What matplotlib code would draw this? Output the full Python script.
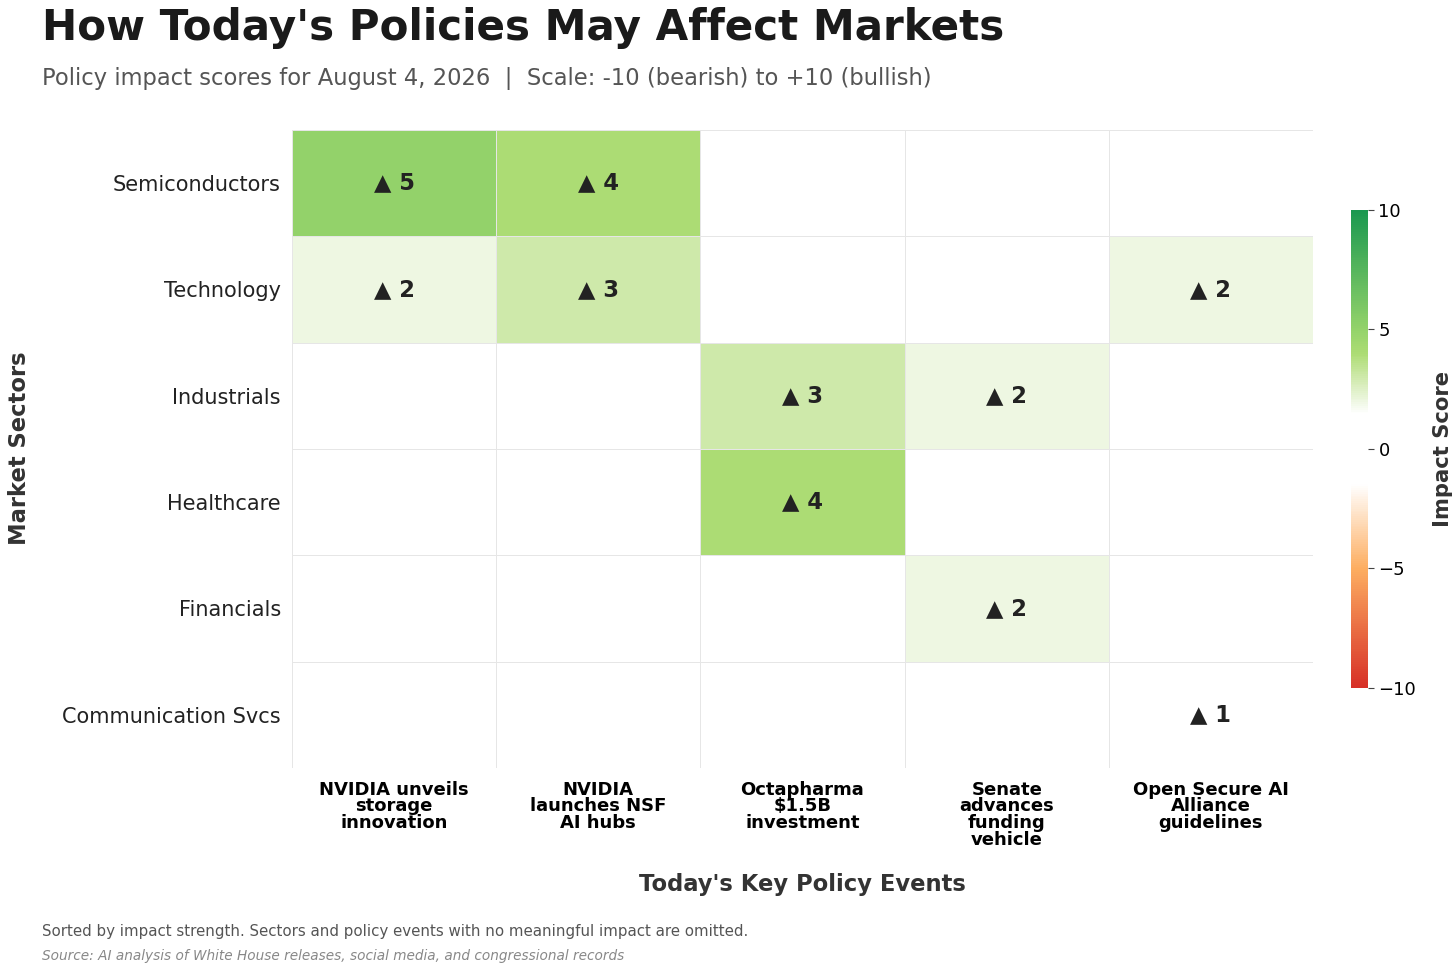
import numpy as np
import matplotlib
matplotlib.use("Agg")
import matplotlib.pyplot as plt
from matplotlib.colors import LinearSegmentedColormap, Normalize

plt.rcParams["font.family"] = ["DejaVu Sans"]

# data
sectors = ["Semiconductors", "Technology", "Industrials", "Healthcare",
           "Financials", "Communication Svcs"]
events = ["NVIDIA unveils\nstorage\ninnovation",
          "NVIDIA\nlaunches NSF\nAI hubs",
          "Octapharma\n$1.5B\ninvestment",
          "Senate\nadvances\nfunding\nvehicle",
          "Open Secure AI\nAlliance\nguidelines"]
semis = [5, 4, 0, 0, 0]
tech = [2, 3, 0, 0, 2]
industrials = [0, 0, 3, 2, 0]
healthcare = [0, 0, 4, 0, 0]
financials = [0, 0, 0, 2, 0]
comms = [0, 0, 0, 0, 1]
scores = np.array([semis, tech, industrials, healthcare, financials, comms], dtype=float)

# diverging map, white band around zero
nodes = [(-10, "#d73027"), (-5, "#fdae61"), (-1.5, "#ffffff"), (1.5, "#ffffff"),
         (2, "#eef7e2"), (3, "#cfe9ab"), (4, "#addc74"), (5, "#94d36a"), (10, "#1a9850")]
cmap = LinearSegmentedColormap.from_list(
    "impact", [((v + 10) / 20, c) for v, c in nodes])
norm = Normalize(vmin=-10, vmax=10)

fig = plt.figure(figsize=(14.56, 9.75), dpi=100)
ax = fig.add_axes([0.2005, 0.2123, 0.7013, 0.6544])
cax = fig.add_axes([0.9279, 0.2944, 0.0117, 0.4903])

mesh = ax.pcolormesh(scores, cmap=cmap, norm=norm, edgecolors="#e6e6e6", linewidth=0.7)
ax.set_xlim(0, len(events))
ax.set_ylim(len(sectors), 0)

for i in range(len(sectors)):
    for j in range(len(events)):
        v = scores[i, j]
        if v == 0:
            continue
        arrow = "\u25B2" if v > 0 else "\u25BC"
        ax.text(j + 0.5, i + 0.5, f"{arrow} {int(abs(v))}", ha="center", va="center",
                fontsize=16.3, fontweight="bold", color="#222222")

ax.set_xticks(np.arange(len(events)) + 0.5)
ax.set_xticklabels(events, fontsize=13, fontweight="bold", linespacing=0.92, va="top")
ax.set_yticks(np.arange(len(sectors)) + 0.5)
ax.set_yticklabels(sectors, fontsize=15, color="#222222")
ax.tick_params(length=0, pad=8)
ax.tick_params(axis="x", pad=9)
for s in ax.spines.values():
    s.set_visible(False)

cb = fig.colorbar(mesh, cax=cax, ticks=[-10, -5, 0, 5, 10])
cb.outline.set_visible(False)
cb.ax.tick_params(labelsize=13, length=4, color="#444444")
cb.set_label("Impact Score", fontsize=15.2, fontweight="bold", color="#333333", labelpad=12)

fig.text(0.0288, 0.971, "How Today's Policies May Affect Markets", fontsize=30.3,
         fontweight="bold", color="#1a1a1a", va="center")
fig.text(0.0288, 0.919,
         "Policy impact scores for August 4, 2026  |  Scale: -10 (bearish) to +10 (bullish)",
         fontsize=16.3, color="#555555", va="center")
fig.text(0.551, 0.0933, "Today's Key Policy Events", fontsize=16.3, fontweight="bold",
         color="#333333", ha="center", va="center")
fig.text(0.0137, 0.54, "Market Sectors", fontsize=16.3, fontweight="bold", color="#333333",
         ha="center", va="center", rotation=90)
fig.text(0.0288, 0.045,
         "Sorted by impact strength. Sectors and policy events with no meaningful impact are omitted.",
         fontsize=10.8, color="#555555", va="center")
fig.text(0.0288, 0.0195,
         "Source: AI analysis of White House releases, social media, and congressional records",
         fontsize=9.8, color="#888888", style="italic", va="center")

fig.savefig("out.png", dpi=100, facecolor="white")
